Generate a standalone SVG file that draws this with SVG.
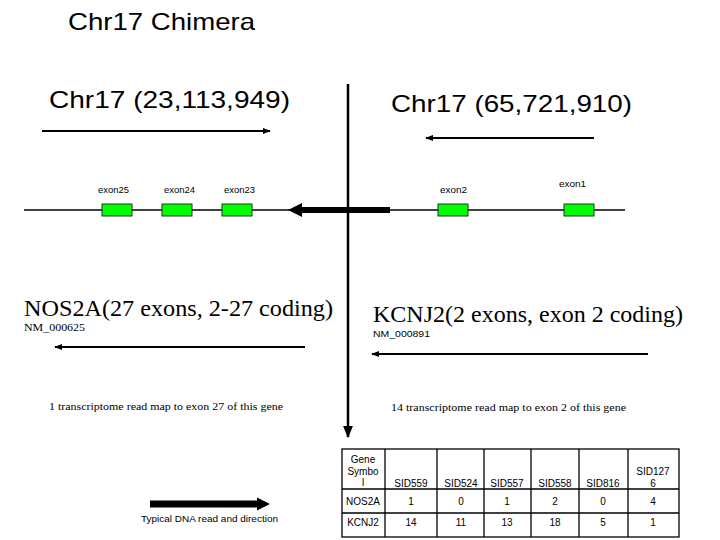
<svg xmlns="http://www.w3.org/2000/svg" width="720" height="540" viewBox="0 0 720 540">
<defs>
<style>
.sans{font-family:"Liberation Sans",Arial,sans-serif;fill:#000}
.serif{font-family:"Liberation Serif","Times New Roman",serif;fill:#000}
.exon{fill:#00ff00;stroke:#1a3a1a;stroke-width:1}
.ln{stroke:#000;fill:none}
.tbl{stroke:#000;stroke-width:1.3;fill:none}
.tt{font-family:"Liberation Sans",Arial,sans-serif;font-size:10px;fill:#000;text-anchor:middle}
</style>
<marker id="ah" viewBox="0 0 10 10" refX="9" refY="5" markerWidth="4" markerHeight="4" orient="auto"><path d="M0,1 L10,5 L0,9 Z" fill="#000"/></marker>
<marker id="ahs" viewBox="0 0 10 10" refX="9" refY="5" markerWidth="5" markerHeight="5" orient="auto"><path d="M0,1 L10,5 L0,9 Z" fill="#000"/></marker>
</defs>
<rect width="720" height="540" fill="#fff"/>
<text class="sans" x="68" y="30" font-size="24" textLength="187" lengthAdjust="spacingAndGlyphs">Chr17 Chimera</text>
<text class="sans" x="49" y="108" font-size="24" textLength="241" lengthAdjust="spacingAndGlyphs">Chr17 (23,113,949)</text>
<text class="sans" x="391" y="112" font-size="24" textLength="241" lengthAdjust="spacingAndGlyphs">Chr17 (65,721,910)</text>

<g id="connectors">
<line class="ln" x1="42" y1="131" x2="270" y2="131" stroke-width="2" marker-end="url(#ah)"/>
<line class="ln" x1="594" y1="138" x2="426" y2="138" stroke-width="2" marker-end="url(#ah)"/>
<line class="ln" x1="24" y1="210" x2="625" y2="210" stroke-width="1.5"/>
<line class="ln" x1="348" y1="84" x2="348" y2="437" stroke-width="2.5" marker-end="url(#ahs)"/>
<line class="ln" x1="390" y1="210" x2="300" y2="210" stroke-width="6"/>
<path d="M288,210 L302,203 L302,217 Z" fill="#000"/>
<line class="ln" x1="305" y1="347" x2="55" y2="347" stroke-width="2" marker-end="url(#ah)"/>
<line class="ln" x1="648" y1="354" x2="372" y2="354" stroke-width="2" marker-end="url(#ah)"/>
<line class="ln" x1="150" y1="504" x2="258" y2="504" stroke-width="7"/>
<path d="M270,504 L257,497.5 L257,510.5 Z" fill="#000"/>
</g>

<g id="exon25"><rect class="exon" x="102" y="204" width="30" height="12"/><text class="sans" x="98" y="193" font-size="9" textLength="31" lengthAdjust="spacingAndGlyphs">exon25</text></g>
<g id="exon24"><rect class="exon" x="162" y="204" width="30" height="12"/><text class="sans" x="164" y="193" font-size="9" textLength="31" lengthAdjust="spacingAndGlyphs">exon24</text></g>
<g id="exon23"><rect class="exon" x="222" y="204" width="30" height="12"/><text class="sans" x="224" y="193" font-size="9" textLength="31" lengthAdjust="spacingAndGlyphs">exon23</text></g>
<g id="exon2"><rect class="exon" x="438" y="204" width="30" height="12"/><text class="sans" x="440" y="193" font-size="9" textLength="27" lengthAdjust="spacingAndGlyphs">exon2</text></g>
<g id="exon1"><rect class="exon" x="564" y="204" width="30" height="12"/><text class="sans" x="559" y="187" font-size="9" textLength="27" lengthAdjust="spacingAndGlyphs">exon1</text></g>

<g id="nos2a">
<text class="serif" x="24" y="316" font-size="23" textLength="309" lengthAdjust="spacingAndGlyphs">NOS2A(27 exons, 2-27 coding)</text>
<text class="serif" x="24" y="331" font-size="11" textLength="61" lengthAdjust="spacingAndGlyphs">NM_000625</text>
<text class="serif" x="49" y="410" font-size="11" textLength="234" lengthAdjust="spacingAndGlyphs">1 transcriptome read map to exon 27 of this gene</text>
</g>
<g id="kcnj2">
<text class="serif" x="373" y="322" font-size="23" textLength="310" lengthAdjust="spacingAndGlyphs">KCNJ2(2 exons, exon 2 coding)</text>
<text class="sans" x="373" y="337" font-size="9" textLength="57" lengthAdjust="spacingAndGlyphs">NM_000891</text>
<text class="serif" x="391" y="411" font-size="11" textLength="235" lengthAdjust="spacingAndGlyphs">14 transcriptome read map to exon 2 of this gene</text>
</g>

<g id="legend">
<text class="sans" x="141" y="522" font-size="9" textLength="137" lengthAdjust="spacingAndGlyphs">Typical DNA read and direction</text>
</g>

<g id="table">
<rect class="tbl" x="342" y="449" width="337" height="88"/>
<line class="tbl" x1="342" y1="489" x2="679" y2="489"/>
<line class="tbl" x1="342" y1="513" x2="679" y2="513"/>
<line class="tbl" x1="385" y1="449" x2="385" y2="537"/>
<line class="tbl" x1="437" y1="449" x2="437" y2="537"/>
<line class="tbl" x1="484" y1="449" x2="484" y2="537"/>
<line class="tbl" x1="531" y1="449" x2="531" y2="537"/>
<line class="tbl" x1="579" y1="449" x2="579" y2="537"/>
<line class="tbl" x1="628" y1="449" x2="628" y2="537"/>
<text class="tt" x="363" y="463">Gene</text>
<text class="tt" x="363" y="475">Symbo</text>
<text class="tt" x="363" y="486">l</text>
<text class="tt" x="411" y="487">SID559</text>
<text class="tt" x="461" y="487">SID524</text>
<text class="tt" x="507" y="487">SID557</text>
<text class="tt" x="555" y="487">SID558</text>
<text class="tt" x="603" y="487">SID816</text>
<text class="tt" x="653" y="475">SID127</text>
<text class="tt" x="653" y="487">6</text>
<text class="tt" x="363" y="505">NOS2A</text>
<text class="tt" x="411" y="505">1</text>
<text class="tt" x="461" y="505">0</text>
<text class="tt" x="507" y="505">1</text>
<text class="tt" x="555" y="505">2</text>
<text class="tt" x="603" y="505">0</text>
<text class="tt" x="653" y="505">4</text>
<text class="tt" x="363" y="526">KCNJ2</text>
<text class="tt" x="411" y="526">14</text>
<text class="tt" x="461" y="526">11</text>
<text class="tt" x="507" y="526">13</text>
<text class="tt" x="555" y="526">18</text>
<text class="tt" x="603" y="526">5</text>
<text class="tt" x="653" y="526">1</text>
</g>
</svg>
